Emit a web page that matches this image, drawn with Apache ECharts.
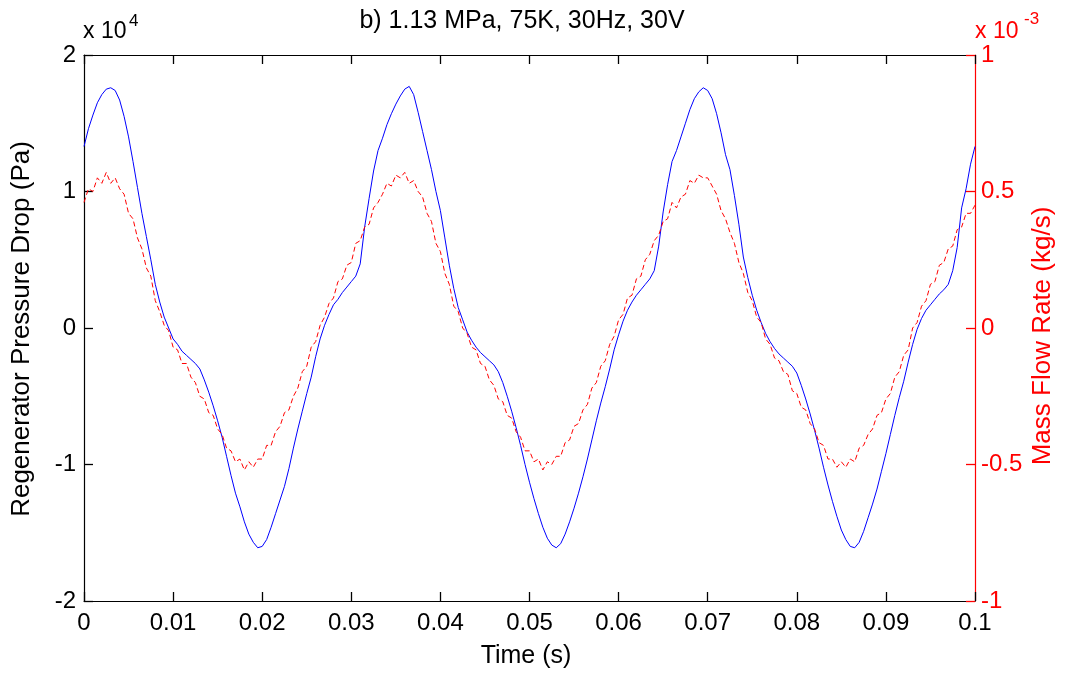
<!DOCTYPE html>
<html>
<head>
<meta charset="utf-8">
<script src="https://cdn.jsdelivr.net/npm/echarts@6/dist/echarts.min.js"></script>
<style>
html,body{margin:0;padding:0;background:#fff;}
#chart{width:1066px;height:675px;}
</style>
</head>
<body>
<div id="chart"></div>
<script>
// Sample step of the recorded signals (s)
const timeStep = 0.0005;

// Regenerator pressure drop, units of 1e4 Pa, three cycles
const pressureCycle1 = [1.33,1.46,1.56,1.65,1.71,1.75,1.76,1.74,1.67,1.55,1.40,1.22,1.03,0.84,0.67,0.50,0.32,0.19,0.08,0.00,-0.08,-0.12,-0.17,-0.20,-0.23,-0.26,-0.30,-0.38,-0.47,-0.57,-0.68,-0.80,-0.94,-1.08,-1.21,-1.31,-1.42,-1.51,-1.57,-1.61,-1.60,-1.55,-1.46,-1.36,-1.26,-1.16,-1.03,-0.88,-0.74,-0.61,-0.48,-0.36,-0.21,-0.08,0.02,0.10,0.17,0.21,0.26,0.30,0.34,0.38,0.47,0.74,0.95,1.15,1.30];
const pressureCycle2 = [1.39,1.49,1.57,1.64,1.70,1.75,1.77,1.71,1.58,1.44,1.30,1.16,1.00,0.86,0.66,0.46,0.29,0.15,0.06,-0.03,-0.09,-0.14,-0.18,-0.21,-0.24,-0.27,-0.32,-0.40,-0.50,-0.61,-0.73,-0.86,-1.00,-1.13,-1.25,-1.36,-1.46,-1.54,-1.59,-1.61,-1.58,-1.51,-1.42,-1.32,-1.21,-1.09,-0.96,-0.82,-0.68,-0.55,-0.43,-0.30,-0.16,-0.05,0.05,0.13,0.19,0.24,0.28,0.32,0.36,0.42,0.60,0.85,1.05,1.22];
const pressureCycle3 = [1.30,1.40,1.50,1.60,1.68,1.73,1.76,1.74,1.68,1.57,1.43,1.27,1.16,0.97,0.76,0.52,0.37,0.24,0.13,0.04,-0.04,-0.10,-0.15,-0.19,-0.22,-0.25,-0.28,-0.33,-0.42,-0.52,-0.63,-0.75,-0.88,-1.02,-1.15,-1.27,-1.38,-1.48,-1.55,-1.60,-1.61,-1.57,-1.49,-1.39,-1.29,-1.18,-1.05,-0.92,-0.78,-0.64,-0.51,-0.39,-0.25,-0.12,-0.01,0.07,0.13,0.17,0.21,0.25,0.28,0.32,0.42,0.59,0.88,1.02,1.20,1.33];

// Mass flow rate, units of 1e-3 kg/s, three cycles
const flowCycle1 = [0.46,0.51,0.50,0.55,0.53,0.57,0.53,0.55,0.51,0.49,0.42,0.40,0.33,0.29,0.22,0.19,0.10,0.06,0.01,-0.01,-0.07,-0.08,-0.13,-0.13,-0.18,-0.20,-0.25,-0.26,-0.31,-0.32,-0.37,-0.39,-0.44,-0.45,-0.49,-0.48,-0.52,-0.49,-0.51,-0.48,-0.48,-0.43,-0.43,-0.38,-0.36,-0.31,-0.30,-0.25,-0.22,-0.16,-0.14,-0.07,-0.05,0.01,0.04,0.09,0.11,0.17,0.18,0.23,0.24,0.31,0.32,0.37,0.38,0.44,0.46];
const flowCycle2 = [0.49,0.53,0.52,0.56,0.55,0.57,0.53,0.54,0.50,0.48,0.42,0.39,0.31,0.28,0.20,0.16,0.08,0.06,0.00,-0.02,-0.07,-0.08,-0.13,-0.14,-0.19,-0.21,-0.26,-0.27,-0.32,-0.33,-0.38,-0.40,-0.45,-0.45,-0.49,-0.48,-0.52,-0.49,-0.50,-0.47,-0.47,-0.42,-0.41,-0.36,-0.35,-0.30,-0.28,-0.22,-0.20,-0.14,-0.12,-0.06,-0.03,0.03,0.05,0.11,0.12,0.18,0.19,0.25,0.27,0.32,0.34,0.39,0.40,0.46];
const flowCycle3 = [0.44,0.48,0.49,0.54,0.53,0.56,0.55,0.55,0.52,0.49,0.43,0.40,0.35,0.31,0.24,0.20,0.13,0.10,0.04,0.02,-0.04,-0.06,-0.11,-0.12,-0.16,-0.17,-0.23,-0.24,-0.29,-0.30,-0.35,-0.37,-0.42,-0.43,-0.48,-0.48,-0.51,-0.49,-0.51,-0.48,-0.49,-0.44,-0.43,-0.39,-0.37,-0.32,-0.31,-0.26,-0.24,-0.18,-0.16,-0.10,-0.08,0.00,0.02,0.08,0.10,0.16,0.17,0.23,0.24,0.29,0.30,0.36,0.37,0.42,0.42,0.45];

// Tick labels
const xTickLabels = ['0','0.01','0.02','0.03','0.04','0.05','0.06','0.07','0.08','0.09','0.1'];
const leftTickLabels = {'-2':'-2','-1':'-1','0':'0','1':'1','2':'2'};
const rightTickLabels = {'-1':'-1','-0.5':'-0.5','0':'0','0.5':'0.5','1':'1'};

const titleText = 'b) 1.13 MPa, 75K, 30Hz, 30V';
const xName = 'Time (s)';
const leftName = 'Regenerator Pressure Drop (Pa)';
const rightName = 'Mass Flow Rate (kg/s)';

const pressure = pressureCycle1.concat(pressureCycle2, pressureCycle3);
const flow = flowCycle1.concat(flowCycle2, flowCycle3);
const pressureData = pressure.map((v, i) => [i * timeStep, v]);
const flowData = flow.map((v, i) => [i * timeStep, v]);

const FONT = '"Liberation Sans", Arial, Helvetica, sans-serif';
const chart = echarts.init(document.getElementById('chart'), null, {renderer: 'canvas'});

const L = 84, R = 975, T = 55, B = 601;
const tickBlack = {show: true, inside: true, length: 9, lineStyle: {color: '#000', width: 1.3}};
const tickRed = {show: true, inside: true, length: 9, lineStyle: {color: '#ff0000', width: 1.3}};

chart.setOption({
  animation: false,
  backgroundColor: '#ffffff',
  grid: {left: L, right: 1066 - R, top: T, bottom: 675 - B, containLabel: false},
  xAxis: [{
    type: 'value', min: 0, max: 0.1, interval: 0.01, position: 'bottom',
    axisLine: {show: true, onZero: false, lineStyle: {color: '#000', width: 1.2}},
    axisTick: tickBlack,
    axisLabel: {show: true, margin: 10, color: '#000', fontSize: 24, fontFamily: FONT,
      formatter: v => xTickLabels[Math.round(v / 0.01)]},
    splitLine: {show: false}
  }, {
    type: 'value', min: 0, max: 0.1, interval: 0.01, position: 'top',
    axisLine: {show: true, onZero: false, lineStyle: {color: '#000', width: 1.2}},
    axisTick: tickBlack,
    axisLabel: {show: false},
    splitLine: {show: false}
  }],
  yAxis: [{
    type: 'value', min: -2, max: 2, interval: 1, position: 'left',
    axisLine: {show: true, onZero: false, lineStyle: {color: '#000', width: 1.2}},
    axisTick: tickBlack,
    axisLabel: {show: true, margin: 8, color: '#000', fontSize: 24, fontFamily: FONT,
      formatter: v => leftTickLabels[String(Math.round(v))]},
    splitLine: {show: false}
  }, {
    type: 'value', min: -1, max: 1, interval: 0.5, position: 'right',
    axisLine: {show: true, onZero: false, lineStyle: {color: '#ff0000', width: 1.2}},
    axisTick: tickRed,
    axisLabel: {show: true, margin: 6, color: '#ff0000', fontSize: 24, fontFamily: FONT,
      formatter: v => rightTickLabels[String(Math.round(v * 2) / 2)]},
    splitLine: {show: false}
  }],
  series: [{
    name: 'Pressure', type: 'line', xAxisIndex: 0, yAxisIndex: 0,
    data: pressureData, showSymbol: false, symbol: 'none', smooth: false,
    lineStyle: {color: '#0000ff', width: 1}, z: 2
  }, {
    name: 'Flow', type: 'line', xAxisIndex: 0, yAxisIndex: 1,
    data: flowData, showSymbol: false, symbol: 'none', smooth: false,
    lineStyle: {color: '#ff0000', width: 1, type: [5, 3]}, z: 3
  }],
  graphic: [
    {type: 'text', x: 522, y: 21.5, silent: true,
      style: {text: titleText, font: '25px ' + FONT, fill: '#000', align: 'center', verticalAlign: 'middle'}},
    {type: 'text', x: 526, y: 656, silent: true,
      style: {text: xName, font: '25px ' + FONT, fill: '#000', align: 'center', verticalAlign: 'middle'}},
    {type: 'text', x: 22, y: 329, rotation: Math.PI / 2, silent: true,
      style: {text: leftName, font: '26px ' + FONT, fill: '#000', align: 'center', verticalAlign: 'middle'}},
    {type: 'text', x: 1043, y: 336, rotation: Math.PI / 2, silent: true,
      style: {text: rightName, font: '26px ' + FONT, fill: '#ff0000', align: 'center', verticalAlign: 'middle'}},
    {type: 'text', x: 83, y: 32, silent: true,
      style: {text: 'x 10', font: '23px ' + FONT, fill: '#000', align: 'left', verticalAlign: 'middle'}},
    {type: 'text', x: 129, y: 21, silent: true,
      style: {text: '4', font: '17px ' + FONT, fill: '#000', align: 'left', verticalAlign: 'middle'}},
    {type: 'text', x: 975, y: 32, silent: true,
      style: {text: 'x 10', font: '23px ' + FONT, fill: '#ff0000', align: 'left', verticalAlign: 'middle'}},
    {type: 'text', x: 1024, y: 19, silent: true,
      style: {text: '-3', font: '17px ' + FONT, fill: '#ff0000', align: 'left', verticalAlign: 'middle'}}
  ]
});
</script>
</body>
</html>
